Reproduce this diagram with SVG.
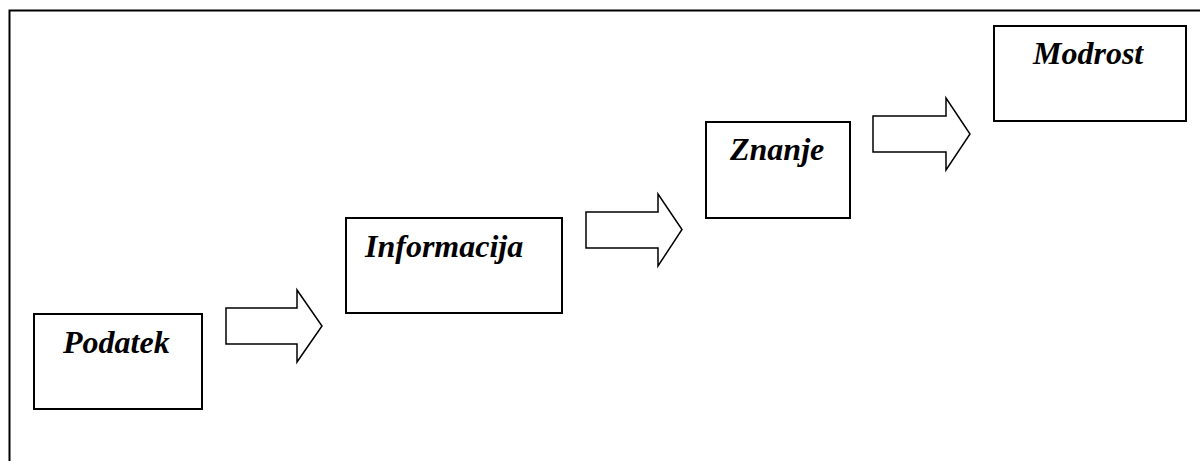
<svg xmlns="http://www.w3.org/2000/svg" width="1200" height="461" viewBox="0 0 1200 461">
<style>
.box{fill:#fff;stroke:#000;stroke-width:2}
.lbl{font-family:"Liberation Serif","Times New Roman",serif;font-weight:bold;font-style:italic;font-size:32px;fill:#000}
.arr{fill:#fff;stroke:#000;stroke-width:1.5;stroke-linejoin:miter}
</style>
<rect width="1200" height="461" fill="#fff"/>
<path d="M9.5,470 V10.5 H1210" fill="none" stroke="#000" stroke-width="2"/>
<g id="podatek"><rect class="box" x="34" y="314" width="168" height="95"/><text class="lbl" x="63" y="353">Podatek</text></g>
<g id="informacija"><rect class="box" x="346" y="218" width="216" height="95"/><text class="lbl" x="365" y="257">Informacija</text></g>
<g id="znanje"><rect class="box" x="706" y="122" width="144" height="96"/><text class="lbl" x="730" y="160">Znanje</text></g>
<g id="modrost"><rect class="box" x="994" y="26" width="192" height="95"/><text class="lbl" x="1033" y="64">Modrost</text></g>
<g id="connectors">
<path class="arr" d="M226,308 H297 V290 L322,326 L297,362 V344 H226 Z"/>
<path class="arr" d="M586,212 H658 V194 L682,229.5 L658,266 V248 H586 Z"/>
<path class="arr" d="M873,116 H946 V98 L970,134 L946,170 V152 H873 Z"/>
</g>
</svg>
